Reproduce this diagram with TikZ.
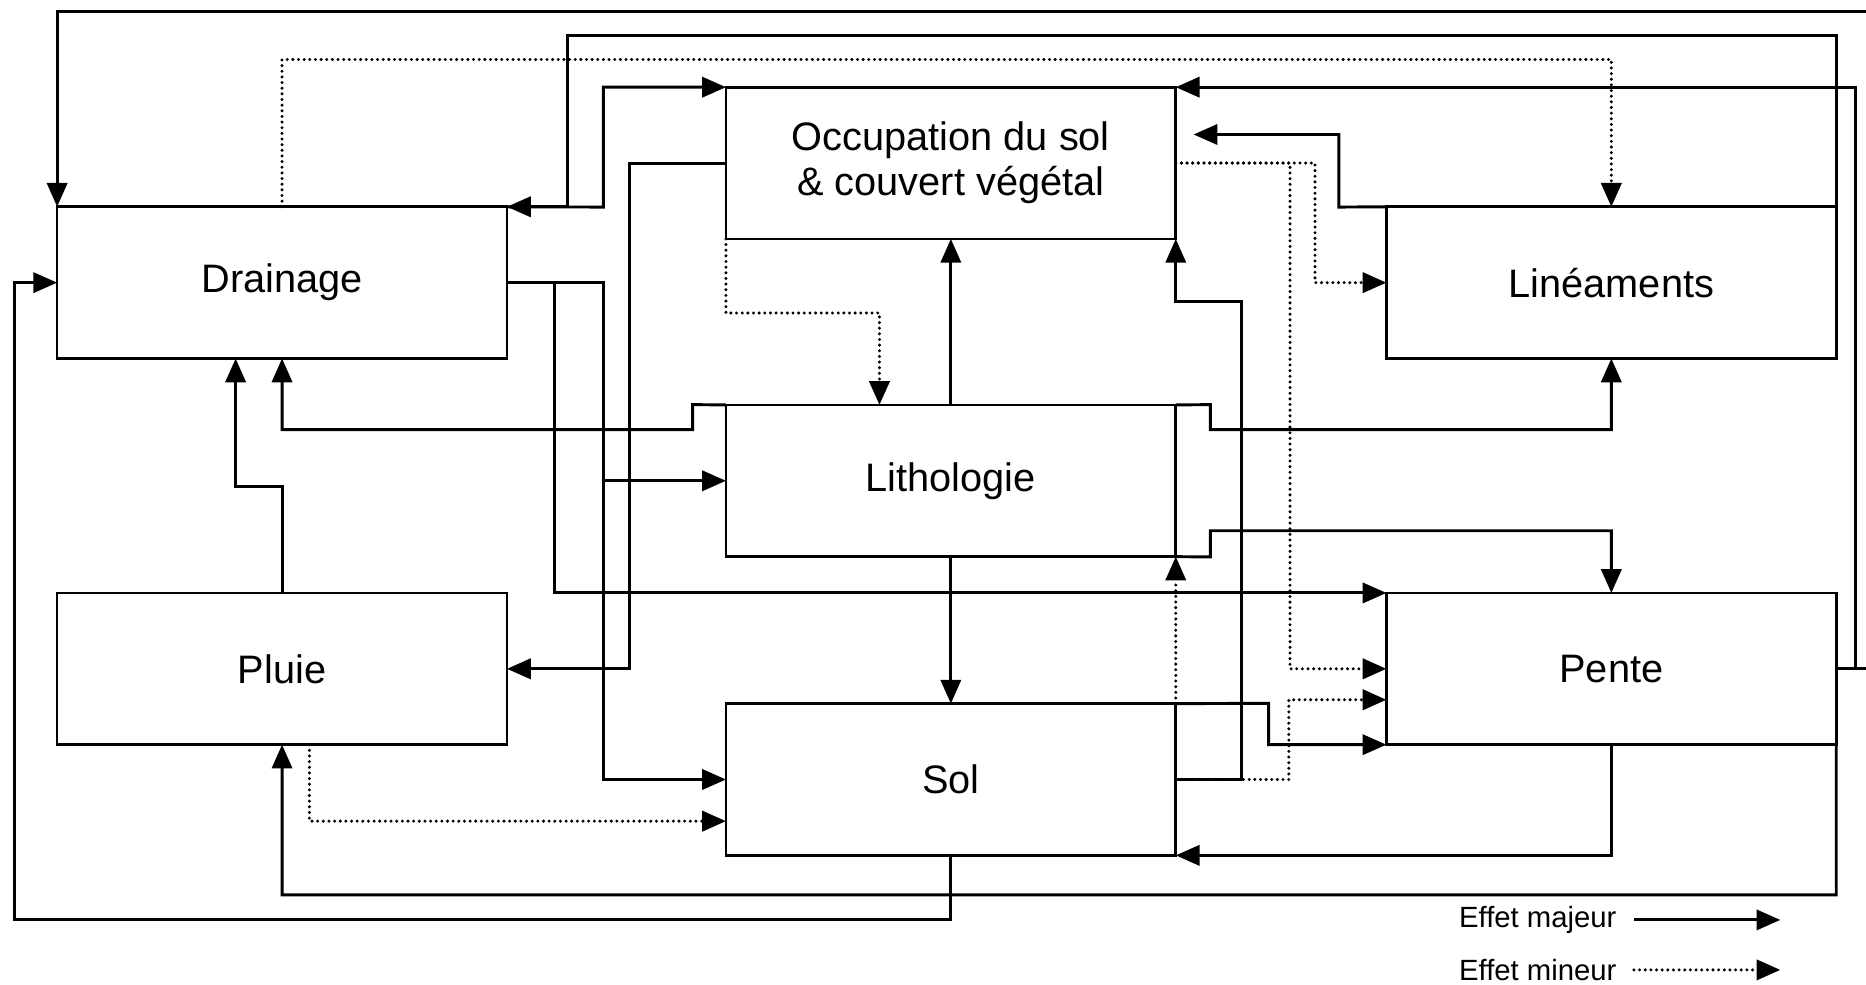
\documentclass[tikz,border=0pt]{standalone}
\usepackage{fontspec}
\setmainfont{Liberation Sans}
\usetikzlibrary{arrows.meta,calc}
\begin{document}
\begin{tikzpicture}[x=0.1mm,y=-0.1mm,
 box/.style={draw,line width=0.65pt,minimum width=37.8mm,minimum height=12.75mm,inner sep=0pt,outer sep=0pt,align=center,font=\fontsize{9.5}{10.8}\selectfont},
 major/.style={line width=0.7pt,-{Triangle[length=2mm,width=1.7mm]}},
 minor/.style={line width=0.8pt,line cap=round,dash pattern=on 0pt off 1.35pt,-{Triangle[length=2mm,width=1.7mm]}},
 lgtext/.style={font=\fontsize{7}{8}\selectfont,inner sep=0pt,anchor=east}]
\useasboundingbox (0,0) rectangle (1568,827);
\fill[white] (0,0) rectangle (1568,827);
% boxes
\node[box] (dr) at (237,237.5) {Drainage};
\node[box] (pl) at (237,562) {Pluie};
\node[box] (oc) at (799,137) {Occupation du sol\\\& couvert végétal};
\node[box] (li) at (799,404) {Lithologie};
\node[box] (so) at (799,655) {Sol};
\node[box] (ln) at (1354,237.5) {Linéaments};
\node[box] (pe) at (1354,562) {Pente};
% connectors
\draw[major] (pe.east) -- (1571,562) -- (1571,10) -| (dr.north west);
\draw[major] (pe.east) -- (1559,562) |- (oc.north east);
\draw[major] (ln.north east) |- (477,30) |- (dr.north east);
\draw[major] (dr.north east) -- (507,174) |- (oc.north west);
\draw[minor] (dr.north) |- (1354,50) -- (ln.north);
\draw[major] (oc.west) -- (529,137) |- (pl.east);
\draw[major] (dr.east) -- (466,237.5) |- (pe.north west);
\draw[major] (dr.east) -- (507,237.5) |- (li.west);
\draw[major] (dr.east) -- (507,237.5) |- (so.west);
\draw[major] (pl.north) -- (237,409) -| ($(dr.south)+(-39,0)$);
\draw[major] (li.north west) -- (582,340) -- (582,361) -| (dr.south);
\draw[major] (li.north east) -- (1017,340) -- (1017,361) -| (ln.south);
\draw[major] (li.south east) -- (1017,468) -- (1017,446) -| (pe.north);
\draw[major] (li.north) -- (oc.south);
\draw[major] (li.south) -- (so.north);
\draw[minor] (oc.south west) -- (610,263) -| ($(li.north west)+(129,0)$);
\draw[major] (so.east) -- (1043,655) -- (1043,253) -| (oc.south east);
\draw[minor] (so.east) -- (1083,655) |- ($(pe.west)+(0,26)$);
\draw[minor] (oc.east) -- (1105,137) |- (ln.west);
\draw[minor] (oc.east) -- (1084,137) |- (pe.west);
\coordinate (lnoc) at (1003,113);
\draw[major] (ln.north west) -- (1125,174) -- (1125,113) -- (lnoc);
\draw[major] (so.north east) -- (1066,591) |- (pe.south west);
\draw[minor] (so.north east) -- (li.south east);
\draw[major] (pe.south) |- (so.south east);
\draw[major] (so.south) -- (799,773) -| (12,237.5) -- (dr.west);
\draw[major] (pe.south east) -- (1543,752) -| (pl.south);
\draw[minor] ($(pl.south)+(23,0)$) -- (260,690) -- ($(so.west)+(0,35)$);
% legend
\node[lgtext] (lgA) at (1359,773) {Effet majeur};
\node[lgtext] (lgB) at (1359,815) {Effet mineur};
\coordinate (lgA1) at (1373,773);
\coordinate (lgA2) at (1496,773);
\coordinate (lgB1) at (1373,815);
\coordinate (lgB2) at (1496,815);
\draw[major] (lgA1) -- (lgA2);
\draw[minor] (lgB1) -- (lgB2);
\end{tikzpicture}
\end{document}
